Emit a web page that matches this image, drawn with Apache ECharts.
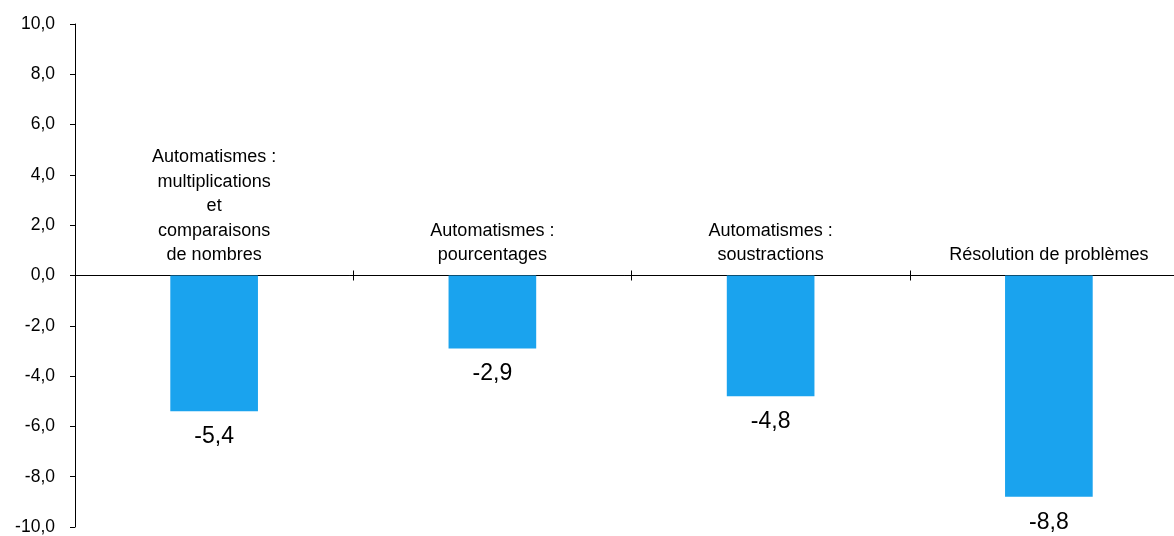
<!DOCTYPE html>
<html>
<head>
<meta charset="utf-8">
<script src="https://cdn.jsdelivr.net/npm/echarts@6/dist/echarts.min.js"></script>
<style>
  html, body { margin: 0; padding: 0; background: #fff; }
  #chart { width: 1174px; height: 536px; }
</style>
</head>
<body>
<div id="chart"></div>
<script>
// catégories et valeurs
const categories = [
  'Automatismes :\nmultiplications\net\ncomparaisons\nde nombres',
  'Automatismes :\npourcentages',
  'Automatismes :\nsoustractions',
  'Résolution de problèmes'
]
const values = [-5.4, -2.9, -4.8, -8.8]

const fmt = v => v.toFixed(1).replace('.', ',')
const font = '"Liberation Sans Narrow", "Arial Narrow", "Liberation Sans", Arial, sans-serif'

// hauteur de la grille : 536 - 24 - 9 = 503 -> le zéro est à mi-hauteur
const zeroOffset = -251.5

const chart = echarts.init(document.getElementById('chart'))
chart.setOption({
  animation: false,
  // la dernière catégorie déborde à droite du cadre (comme sur l'original)
  grid: { left: 75, width: 1113, top: 24, bottom: 9, outerBoundsMode: 'none', containLabel: false },
  xAxis: [
    {
      type: 'category',
      data: categories,
      position: 'bottom',
      offset: zeroOffset,
      axisLine: { onZero: false, lineStyle: { color: '#000', width: 1 } },
      axisTick: { show: true, length: 5, inside: false, lineStyle: { color: '#000' } },
      axisLabel: {
        inside: true,
        verticalAlign: 'bottom',
        margin: 8,
        color: '#000',
        fontSize: 18,
        lineHeight: 24.5,
        fontFamily: font,
        interval: 0
      }
    },
    {
      type: 'category',
      data: categories,
      position: 'bottom',
      offset: zeroOffset,
      axisLine: { onZero: false, lineStyle: { color: '#000', width: 1 } },
      axisTick: { show: true, length: 5, inside: true, lineStyle: { color: '#000' } },
      axisLabel: { show: false }
    }
  ],
  yAxis: {
    type: 'value',
    min: -10,
    max: 10,
    interval: 2,
    splitLine: { show: false },
    axisLine: { show: true, lineStyle: { color: '#000', width: 1 } },
    axisTick: { show: true, length: 5, lineStyle: { color: '#000' } },
    axisLabel: {
      color: '#000',
      fontSize: 17.5,
      margin: 20,
      fontFamily: font,
      formatter: v => fmt(v)
    }
  },
  series: [
    {
      type: 'bar',
      data: values,
      barWidth: '31.5%',
      itemStyle: { color: '#1aa3ee' },
      label: {
        show: true,
        position: 'bottom',
        distance: 14,
        color: '#000',
        fontSize: 23,
        fontFamily: font,
        formatter: p => fmt(p.value)
      }
    }
  ]
})
</script>
</body>
</html>
